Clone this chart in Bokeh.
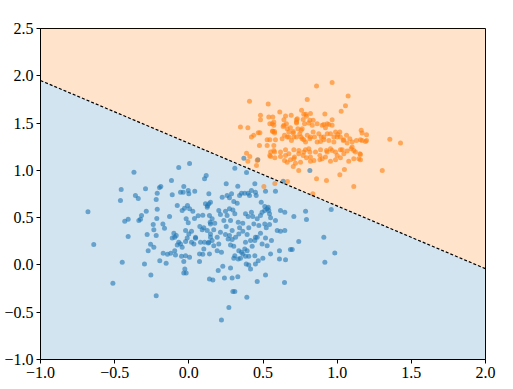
from bokeh.plotting import figure
from bokeh.models import Range1d, FixedTicker
from bokeh.embed import file_html
from bokeh.resources import INLINE

# ---- data ----
blue_points = [
    (-0.37, 0.98), (-0.068, 1.03), (0.005, 1.073), (-0.456, 0.798), (-0.461, 0.681), (-0.36, 0.734),
    (-0.341, 0.702), (-0.292, 0.805), (-0.198, 0.816), (-0.189, 0.829), (-0.213, 0.758), (-0.22, 0.692),
    (-0.117, 0.893), (-0.112, 0.742), (-0.034, 0.829), (-0.056, 0.769), (-0.038, 0.769), (-0.004, 0.787),
    (0.0, 0.752), (0.04, 0.78), (0.106, 0.911), (0.117, 0.946), (0.135, 0.752), (-0.68, 0.561),
    (-0.287, 0.568), (-0.319, 0.522), (-0.337, 0.469), (-0.326, 0.483), (-0.409, 0.483), (-0.432, 0.462),
    (-0.213, 0.589), (-0.13, 0.512), (-0.078, 0.628), (-0.045, 0.575), (-0.029, 0.6), (-0.009, 0.628),
    (0.005, 0.593), (0.027, 0.568), (0.063, 0.519), (0.094, 0.525), (0.112, 0.646), (0.126, 0.625),
    (0.139, 0.522), (0.144, 0.451), (-0.216, 0.491), (-0.24, 0.427), (-0.175, 0.434), (-0.164, 0.388),
    (-0.236, 0.371), (-0.018, 0.487), (-0.004, 0.445), (0.038, 0.491), (0.074, 0.406), (0.101, 0.392),
    (0.09, 0.371), (0.124, 0.363), (-0.409, 0.3), (-0.281, 0.321), (-0.22, 0.31), (-0.101, 0.335),
    (-0.085, 0.31), (-0.095, 0.292), (-0.112, 0.286), (-0.022, 0.363), (0.0, 0.328), (0.018, 0.356),
    (0.045, 0.292), (-0.011, 0.286),
    (-0.641, 0.215), (-0.449, 0.028), (-0.512, -0.195), (-0.299, 0.011), (-0.258, 0.218), (-0.236, 0.186),
    (-0.274, 0.151), (-0.196, 0.045), (-0.153, 0.017), (-0.256, -0.106), (-0.22, -0.325), (-0.173, 0.123),
    (-0.144, 0.112), (-0.122, 0.123), (-0.095, 0.151), (-0.09, 0.106), (-0.068, 0.239), (-0.056, 0.222),
    (-0.078, 0.212), (-0.045, 0.186), (-0.022, 0.247), (0.018, 0.239), (0.034, 0.222), (0.045, 0.282),
    (-0.049, 0.091), (-0.022, 0.098), (0.005, 0.08), (-0.034, 0.035), (-0.027, -0.042), (-0.034, -0.085),
    (-0.018, -0.085), (0.072, 0.035), (0.072, 0.116), (0.094, 0.112), (0.079, 0.239), (0.106, 0.239),
    (0.101, 0.169), (0.131, 0.233), (0.139, 0.116), (0.139, -0.148),
    (0.371, 1.129), (0.465, 1.112), (0.31, 1.023), (0.389, 0.978), (0.816, 0.999),
    (0.252, 0.858), (0.33, 0.833), (0.445, 0.858), (0.584, 0.78), (0.636, 0.886), (0.517, 0.78),
    (0.225, 0.716), (0.258, 0.734), (0.274, 0.71), (0.288, 0.752), (0.342, 0.734), (0.355, 0.758),
    (0.377, 0.758), (0.4, 0.758), (0.409, 0.734), (0.303, 0.67), (0.326, 0.652), (0.422, 0.787),
    (0.449, 0.769), (0.454, 0.734), (0.488, 0.663), (0.512, 0.617), (0.535, 0.61), (0.539, 0.575),
    (0.512, 0.575), (0.618, 0.575), (0.647, 0.557), (0.708, 0.512), (0.135, 0.646), (0.146, 0.663),
    (0.124, 0.61), (0.202, 0.575), (0.213, 0.533), (0.247, 0.568), (0.258, 0.522), (0.274, 0.593),
    (0.297, 0.582), (0.31, 0.54), (0.157, 0.487), (0.146, 0.434), (0.175, 0.441), (0.236, 0.469),
    (0.252, 0.406), (0.281, 0.469), (0.333, 0.451), (0.342, 0.392), (0.364, 0.441), (0.382, 0.54),
    (0.4, 0.512), (0.422, 0.557), (0.431, 0.512), (0.461, 0.487), (0.483, 0.522), (0.494, 0.557),
    (0.528, 0.593), (0.544, 0.54), (0.551, 0.498), (0.438, 0.434), (0.472, 0.416), (0.512, 0.434),
    (0.522, 0.392), (0.544, 0.427), (0.584, 0.469), (0.596, 0.363), (0.618, 0.356), (0.647, 0.363),
    (0.91, 0.292), (0.146, 0.328), (0.168, 0.371), (0.191, 0.292), (0.213, 0.345), (0.247, 0.321),
    (0.274, 0.31), (0.292, 0.363), (0.315, 0.292), (0.337, 0.328), (0.364, 0.356), (0.393, 0.321),
    (0.404, 0.392), (0.449, 0.292), (0.483, 0.335), (0.517, 0.286),
    (0.146, 0.292), (0.157, 0.257), (0.135, 0.239), (0.168, 0.204), (0.202, 0.222), (0.191, 0.151),
    (0.22, 0.133), (0.265, 0.275), (0.292, 0.268), (0.281, 0.212), (0.303, 0.197), (0.337, 0.151),
    (0.355, 0.133), (0.377, 0.169), (0.393, 0.151), (0.364, 0.116), (0.382, 0.091), (0.31, 0.098),
    (0.303, 0.07), (0.333, 0.063), (0.348, 0.07), (0.382, 0.239), (0.416, 0.257), (0.445, 0.257),
    (0.461, 0.292), (0.494, 0.222), (0.528, 0.204), (0.557, 0.257), (0.427, 0.197), (0.404, 0.091),
    (0.445, 0.098), (0.468, 0.045), (0.449, 0.011), (0.499, 0.07), (0.551, 0.116), (0.387, 0.011),
    (0.416, -0.042), (0.404, 0.0), (0.611, 0.151), (0.685, 0.162), (0.697, 0.162), (0.741, 0.247),
    (0.611, 0.063), (0.652, 0.056), (0.984, 0.127), (0.917, 0.028), (0.198, -0.06), (0.229, -0.015),
    (0.281, -0.032), (0.162, -0.159), (0.24, -0.138), (0.292, -0.138), (0.33, -0.124), (0.517, -0.106),
    (0.461, -0.174), (0.645, -0.185), (0.297, -0.28), (0.31, -0.28), (0.391, -0.343), (0.27, -0.449),
    (0.22, -0.583), (0.787, 0.568), (0.793, 0.48), (0.96, 0.586),
]

orange_points = [
    (0.861, 1.892), (0.966, 1.928), (1.074, 1.786), (0.798, 1.748), (0.409, 1.73), (0.535, 1.701),
    (1.056, 1.684), (1.027, 1.624), (0.613, 1.617), (0.917, 1.595), (0.76, 1.635), (0.483, 1.582),
    (0.483, 1.536), (0.539, 1.564), (0.566, 1.564), (0.562, 1.494), (0.573, 1.476), (0.652, 1.574),
    (0.69, 1.582), (0.658, 1.494), (0.731, 1.547), (0.726, 1.511), (0.771, 1.539), (0.789, 1.592),
    (0.82, 1.6), (0.816, 1.529), (0.838, 1.529), (0.348, 1.458), (0.398, 1.451), (0.566, 1.412),
    (0.578, 1.412), (0.641, 1.476), (0.674, 1.405), (0.704, 1.412), (0.735, 1.441), (0.757, 1.423),
    (0.78, 1.494), (0.809, 1.5), (0.832, 1.476), (0.865, 1.494), (0.899, 1.476), (0.933, 1.494),
    (0.966, 1.476), (0.989, 1.405), (1.018, 1.405), (1.162, 1.423), (1.168, 1.394), (1.198, 1.377),
    (1.355, 1.33), (1.304, 0.999), (1.427, 1.288), (0.422, 1.352), (0.438, 1.37), (0.468, 1.398),
    (0.479, 1.398), (0.546, 1.324), (0.584, 1.324), (0.573, 1.264), (0.528, 1.264), (0.476, 1.264),
    (0.629, 1.335), (0.663, 1.352), (0.692, 1.317), (0.726, 1.352), (0.764, 1.335), (0.787, 1.299),
    (0.816, 1.335), (0.847, 1.352), (0.865, 1.299), (0.888, 1.306), (0.91, 1.352), (0.944, 1.317),
    (0.978, 1.299), (1.0, 1.352), (1.041, 1.317), (1.067, 1.288), (1.101, 1.299), (1.13, 1.317),
    (1.168, 1.317), (1.191, 1.306), (0.573, 1.211), (0.618, 1.193), (0.652, 1.218), (0.674, 1.176),
    (0.708, 1.218), (0.742, 1.211), (0.775, 1.193), (0.809, 1.229), (0.854, 1.193), (0.888, 1.218),
    (0.928, 1.211), (0.955, 1.229), (0.989, 1.193), (1.022, 1.218), (1.045, 1.176), (1.094, 1.229),
    (1.112, 1.211), (1.153, 1.176), (0.389, 1.182), (0.411, 1.147), (0.398, 1.097), (0.551, 1.147),
    (0.58, 1.134), (0.618, 1.147), (0.645, 1.105), (0.685, 1.112), (0.712, 1.14), (0.753, 1.087),
    (0.793, 1.134), (0.82, 1.097), (0.883, 1.112), (0.921, 1.14), (0.955, 1.097), (0.989, 1.112),
    (1.022, 1.134), (1.078, 1.097), (1.157, 1.112), (0.741, 0.999), (0.861, 0.911), (0.928, 0.893),
    (1.018, 0.953), (1.049, 1.01), (1.112, 0.829), (0.665, 0.882), (0.506, 0.83), (0.58, 0.86),
    (0.836, 0.752), (0.461, 1.105), (0.456, 1.052),
    (0.726, 1.536), (0.726, 1.5), (0.775, 1.592), (0.793, 1.571), (0.966, 1.536), (0.944, 1.486),
    (0.91, 1.486), (0.921, 1.451), (0.546, 1.494), (0.573, 1.511), (0.564, 1.415), (0.578, 1.394),
    (0.641, 1.536), (0.636, 1.465), (0.663, 1.441), (0.685, 1.451), (0.704, 1.394), (0.645, 1.37),
    (0.674, 1.352), (0.708, 1.352), (0.748, 1.387), (0.764, 1.441), (0.757, 1.352), (0.775, 1.324),
    (0.798, 1.37), (0.82, 1.352), (0.838, 1.405), (0.876, 1.387), (0.892, 1.352), (0.91, 1.324),
    (0.933, 1.387), (0.955, 1.387), (0.978, 1.352), (1.004, 1.38), (1.022, 1.352), (1.045, 1.324),
    (1.063, 1.37), (1.085, 1.335), (1.157, 1.324), (0.528, 1.324), (0.551, 1.193), (0.578, 1.193),
    (0.546, 1.158), (0.652, 1.158), (0.663, 1.087), (0.708, 1.122), (0.719, 1.076), (0.704, 1.041),
    (0.741, 1.176), (0.771, 1.158), (0.786, 1.218), (0.816, 1.193), (0.82, 1.14), (0.843, 1.105),
    (0.883, 1.158), (0.899, 1.122), (0.933, 1.193), (0.966, 1.211), (1.0, 1.158), (1.034, 1.218),
    (1.067, 1.204), (1.101, 1.246), (1.123, 1.193), (1.112, 1.122), (1.146, 1.122), (1.157, 1.168),
    (1.198, 1.316),
]

boundary_x = [-1.0, 2.0]
boundary_y = [1.95, -0.04]

x_lim = [-1.0, 2.0]
y_lim = [-1.0, 2.5]

x_ticks = [-1.0, -0.5, 0.0, 0.5, 1.0, 1.5, 2.0]
x_tick_labels = ["\u22121.0", "\u22120.5", "0.0", "0.5", "1.0", "1.5", "2.0"]
y_ticks = [-1.0, -0.5, 0.0, 0.5, 1.0, 1.5, 2.0, 2.5]
y_tick_labels = ["\u22121.0", "\u22120.5", "0.0", "0.5", "1.0", "1.5", "2.0", "2.5"]

blue_x = [p[0] for p in blue_points]
blue_y = [p[1] for p in blue_points]
orange_x = [p[0] for p in orange_points]
orange_y = [p[1] for p in orange_points]

p = figure(
    width=510, height=386,
    x_range=Range1d(*x_lim), y_range=Range1d(*y_lim),
    output_backend="svg", toolbar_location=None,
    min_border_left=40, min_border_right=25, min_border_top=28, min_border_bottom=27,
)

p.background_fill_color = "white"
p.border_fill_color = "white"
p.outline_line_color = "black"
p.outline_line_width = 1
p.outline_line_alpha = 1
p.xgrid.visible = False
p.ygrid.visible = False

# decision regions
p.varea(x=boundary_x, y1=boundary_y, y2=[y_lim[1]] * len(boundary_x),
        fill_color="#ff7f0e", fill_alpha=0.22)
p.varea(x=boundary_x, y1=[y_lim[0]] * len(boundary_x), y2=boundary_y,
        fill_color="#1f77b4", fill_alpha=0.2)

# points
p.scatter(blue_x, blue_y, size=5, fill_color="#1f77b4", fill_alpha=0.6, line_color=None)
p.scatter(orange_x, orange_y, size=5, fill_color="#ff7f0e", fill_alpha=0.6, line_color=None)

# decision boundary
p.line(boundary_x, boundary_y, line_color="black", line_width=1.2, line_dash="3 2")

for ax, ticks, labels in ((p.xaxis[0], x_ticks, x_tick_labels), (p.yaxis[0], y_ticks, y_tick_labels)):
    ax.ticker = FixedTicker(ticks=ticks)
    ax.major_label_overrides = {t: l for t, l in zip(ticks, labels)}
    ax.major_label_text_font = "Liberation Serif"
    ax.major_label_text_font_size = "16px"
    ax.major_label_text_color = "black"
    ax.major_label_standoff = 3
    ax.axis_line_color = "black"
    ax.axis_line_width = 1
    ax.major_tick_out = 4
    ax.major_tick_in = 0
    ax.major_tick_line_color = "black"
    ax.major_tick_line_width = 1
    ax.minor_tick_line_color = None

open("out.html", "w").write(file_html(p, INLINE))
